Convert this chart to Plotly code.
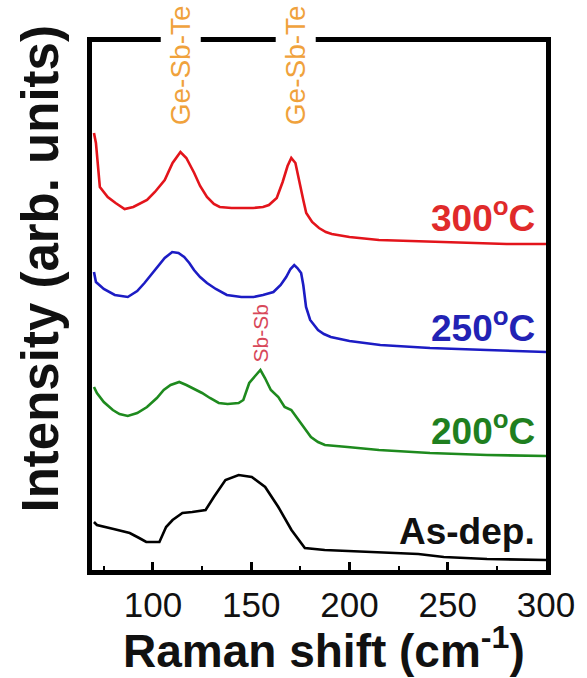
import plotly.graph_objects as go

# Raman spectra (arb. units), one trace per annealing condition
red_x = [70, 71, 73, 77, 81, 85.6, 90, 97, 101, 106, 110, 114, 117, 121, 124, 127.5,
         131, 134, 140, 146, 151, 156, 159, 163, 166, 168.5, 170.4, 172.5, 174.5, 176.5,
         178, 181, 184.5, 188, 191, 200, 215, 230, 241, 260, 280, 300]
red_y = [437, 427, 383, 373, 367, 361, 363, 370, 378, 390, 407, 418, 412, 397, 384, 373,
         366, 363, 362, 362, 362, 363, 365, 372, 388, 404, 412, 407, 387, 370,
         357, 348, 342, 338, 336, 333, 330, 329, 328, 327, 326, 326]

blue_x = [70, 71, 75, 80.6, 87.2, 92, 95.7, 99, 102.3, 106, 109.8, 113, 115.9, 118.5,
          120.9, 124, 127.5, 132, 137.6, 145, 151.2, 156, 161.3, 165, 167.8, 170, 171.9,
          173.5, 175.4, 176.5, 177.9, 180, 184, 187, 190.5, 200, 215.7, 241, 270, 300]
blue_y = [298, 288, 281, 275, 273, 279, 287, 295, 303, 312, 318, 317, 313, 307,
          300, 293, 287, 281, 275, 273, 273, 275, 278, 285, 293, 301, 305,
          302, 297, 285, 263, 250, 240, 236, 233, 229, 225, 222, 220, 218]

green_x = [70, 71.5, 75, 79.6, 83, 87.2, 92, 97, 102, 105.5, 109, 113.4, 117, 121, 125,
           129, 133.5, 138, 143.6, 146, 149, 152, 154.7, 157, 160, 163.8, 167, 170.4,
           174, 177, 180.4, 184, 187.5, 199, 215, 241, 270, 300]
green_y = [183, 177, 168, 160, 156, 154, 157, 163, 172, 180, 185, 188, 185, 181, 177,
           172, 167, 166, 167, 170, 187, 194, 200, 192, 180, 173, 163, 160,
           150, 142, 133, 128, 125, 123, 120, 117, 115, 114]

black_x = [70, 71.5, 80, 88.2, 93, 96.6, 103.3, 106.7, 110, 115, 120, 126.8, 131, 136.9,
           143.6, 150.3, 157.1, 163.8, 170.5, 177.3, 187.4, 200, 214, 225, 235, 248,
           270, 300]
black_y = [48, 45, 41, 37, 32, 28, 28, 43, 50, 57, 58, 60, 73, 90,
           95, 93, 83, 63, 40, 22, 20, 19, 18, 17, 16, 13, 11, 10]

series = [
    ("300<sup>o</sup>C", red_x, red_y, "#E3141B", "#E02A2A", 215),
    ("250<sup>o</sup>C", blue_x, blue_y, "#1C1CC4", "#2222B4", 325),
    ("200<sup>o</sup>C", green_x, green_y, "#1E8A1E", "#1F7F1F", 428),
    ("As-dep.", black_x, black_y, "#000000", "#111111", 531),
]

x_ticks = [100, 150, 200, 250, 300]

fig = go.Figure()
for name, xs, ys, line_color, _, _ in series:
    fig.add_trace(go.Scatter(x=xs, y=ys, mode="lines", name=name,
                             line=dict(color=line_color, width=2.6),
                             showlegend=False))

# plot area spans pixels 92..550 horizontally and 42..570 vertically
L, R, T, B = 92, 550, 42, 570
W, H = 587, 678

def px_to_paper_y(py):
    return (B - py) / (B - T)

def px_to_paper_x(px):
    return (px - L) / (R - L)

annotations = []
for name, _, _, _, text_color, py in series:
    annotations.append(dict(
        text=name, x=px_to_paper_x(541), y=px_to_paper_y(py), xref="paper", yref="paper",
        xanchor="right", yanchor="middle", showarrow=False,
        font=dict(family="Liberation Sans", size=37, color=text_color, weight="bold")))

# peak assignments
for xpos in (113.9, 172.4):
    annotations.append(dict(
        text="Ge-Sb-Te", x=xpos, y=px_to_paper_y(65), xref="x", yref="paper",
        xanchor="center", yanchor="middle",
        textangle=-90, showarrow=False, bgcolor="white", borderpad=4,
        font=dict(family="Liberation Sans", size=28, color="#F0A23C")))
annotations.append(dict(
    text="Sb-Sb", x=154.7, y=px_to_paper_y(333), xref="x", yref="paper",
    xanchor="center", yanchor="middle",
    textangle=-90, showarrow=False,
    font=dict(family="Liberation Sans", size=21, color="#D8485A")))

# axis titles
annotations.append(dict(
    text="Raman shift (cm<sup>-1</sup>)", x=px_to_paper_x(326), y=px_to_paper_y(648),
    xref="paper", yref="paper", xanchor="center", yanchor="middle", showarrow=False,
    font=dict(family="Liberation Sans", size=46, color="#111111", weight="bold")))
annotations.append(dict(
    text="Intensity (arb. units)", x=px_to_paper_x(40), y=px_to_paper_y(269),
    xref="paper", yref="paper", xanchor="center", yanchor="middle",
    showarrow=False, textangle=-90,
    font=dict(family="Liberation Sans", size=51, color="#111111", weight="bold")))

fig.update_layout(
    width=W, height=H,
    margin=dict(l=L, r=W - R, t=T, b=H - B, pad=0),
    paper_bgcolor="white", plot_bgcolor="white",
    annotations=annotations,
    xaxis=dict(range=[69, 300], tickvals=x_ticks, ticks="inside", ticklen=8,
               tickwidth=3, tickcolor="black", showgrid=False, zeroline=False,
               showline=True, linewidth=5, linecolor="black", mirror=True,
               tickfont=dict(family="Liberation Sans", size=35, color="#111111"),
               minor=dict(dtick=25, tick0=75, ticks="inside", ticklen=4, tickwidth=2,
                          tickcolor="black", showgrid=False)),
    yaxis=dict(range=[0, 528], showticklabels=False, ticks="", showgrid=False,
               zeroline=False, showline=True, linewidth=5, linecolor="black",
               mirror=True),
)

fig.write_html("out.html")
